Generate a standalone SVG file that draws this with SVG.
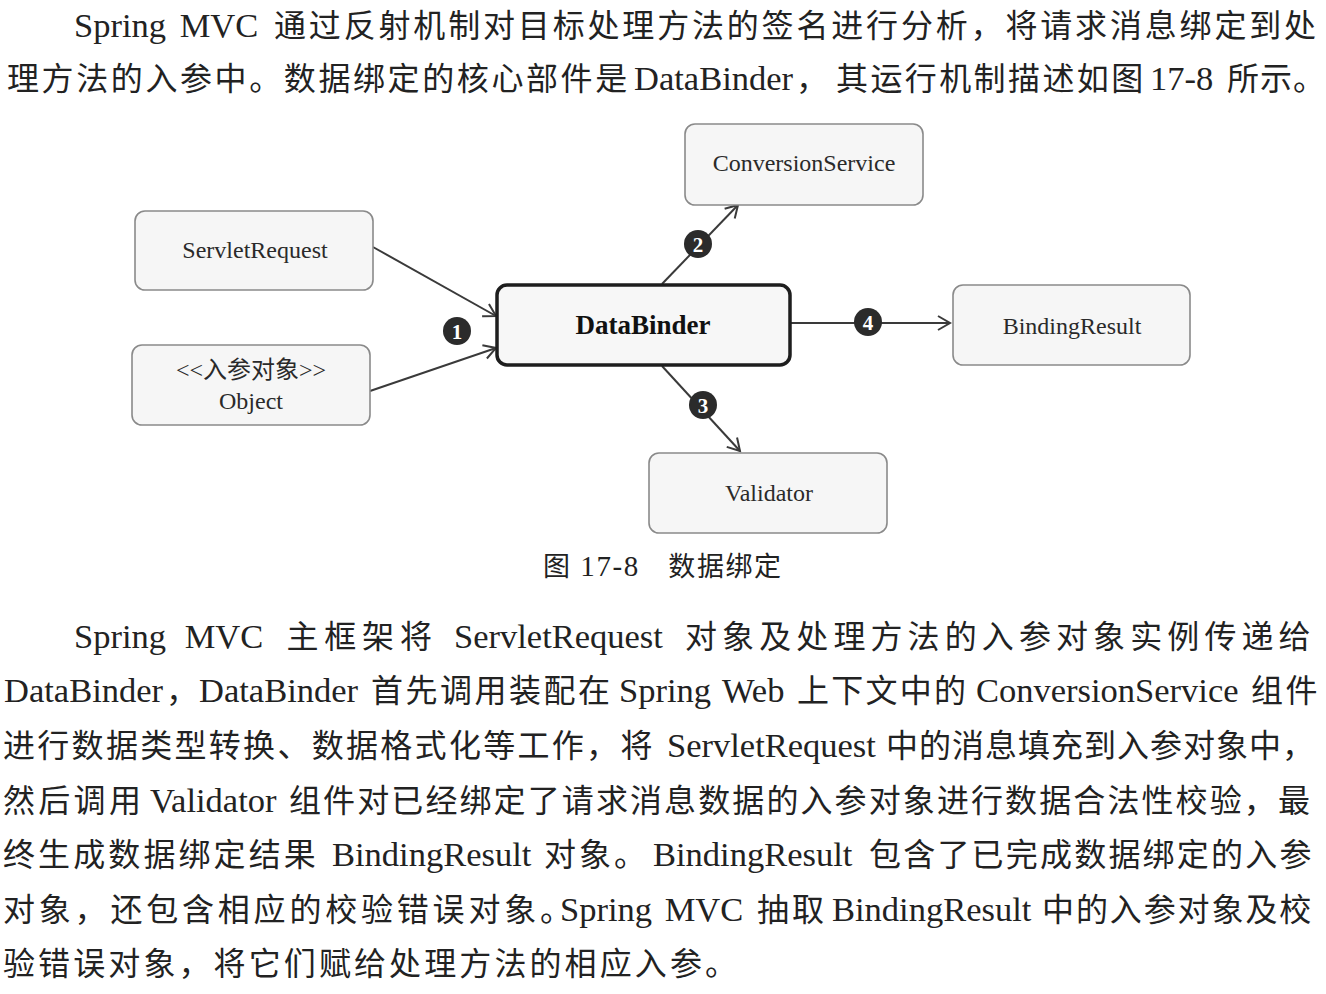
<svg xmlns="http://www.w3.org/2000/svg" width="1326" height="994" viewBox="0 0 1326 994">
<style>
.body{font-family:"Liberation Serif","Noto Sans CJK SC",serif;font-size:32px;fill:#222}
.body tspan.en{font-size:34.5px;letter-spacing:0}
.cap{font-family:"Liberation Serif","Noto Sans CJK SC",serif;font-size:27px;fill:#222}
.cap tspan.en{font-size:29px}
.box{fill:#f6f6f6;stroke:#8a8a8a;stroke-width:1.6}
.main{fill:#f7f7f7;stroke:#1e1e1e;stroke-width:3.5}
.lbl{font-family:"Liberation Serif","Noto Sans CJK SC",serif;font-size:24px;fill:#2a2a2a;text-anchor:middle}
.bold{font-weight:bold;font-size:27px;fill:#111}
.conn{stroke:#3a3a3a;stroke-width:2;fill:none}
.badge circle{fill:#2b2b2b}
.badge text{font-family:"Liberation Serif",serif;font-weight:bold;font-size:21px;fill:#fff;text-anchor:middle}
</style>
<defs>
<marker id="arr" markerUnits="userSpaceOnUse" markerWidth="18" markerHeight="18" refX="14" refY="9" orient="auto">
<path d="M2,2 L14,9 L2,16" fill="none" stroke="#3a3a3a" stroke-width="2"/>
</marker>
</defs>
<rect width="1326" height="994" fill="#ffffff"/>

<g id="paragraph-top">
<text class="body" y="37"><tspan class="en" x="74" style="word-spacing:5px">Spring MVC</tspan><tspan x="274" style="letter-spacing:2.83px">通过反射机制对目标处理方法的签名进行分析，将请求消息绑定到处</tspan></text>
<text class="body" y="90"><tspan x="7" style="letter-spacing:2.6px">理方法的入参中。数据绑定的核心部件是</tspan><tspan class="en" x="634">DataBinder</tspan><tspan x="796">，</tspan><tspan x="836" style="letter-spacing:2.4px">其运行机制描述如图</tspan><tspan class="en" x="1150">17-8</tspan><tspan x="1227" style="letter-spacing:1px">所示。</tspan></text>
</g>

<g id="connectors">
<line class="conn" x1="373" y1="247" x2="496" y2="316" marker-end="url(#arr)"/>
<line class="conn" x1="370" y1="391" x2="496" y2="348" marker-end="url(#arr)"/>
<line class="conn" x1="662" y1="284" x2="738" y2="205" marker-end="url(#arr)"/>
<line class="conn" x1="790" y1="323" x2="950" y2="323" marker-end="url(#arr)"/>
<line class="conn" x1="662" y1="366" x2="740" y2="451" marker-end="url(#arr)"/>
<g class="badge" id="badge1"><circle cx="457" cy="331" r="14"/><text x="457" y="338.5">1</text></g>
<g class="badge" id="badge2"><circle cx="698" cy="244" r="14"/><text x="698" y="251.5">2</text></g>
<g class="badge" id="badge4"><circle cx="868" cy="322" r="14"/><text x="868" y="329.5">4</text></g>
<g class="badge" id="badge3"><circle cx="703" cy="405" r="14"/><text x="703" y="412.5">3</text></g>
</g>

<g id="node-conversionservice">
<rect class="box" x="685" y="124" width="238" height="81" rx="10"/>
<text class="lbl" x="804" y="171">ConversionService</text>
</g>
<g id="node-servletrequest">
<rect class="box" x="135" y="211" width="238" height="79" rx="10"/>
<text class="lbl" x="255" y="258">ServletRequest</text>
</g>
<g id="node-object">
<rect class="box" x="132" y="345" width="238" height="80" rx="10"/>
<text class="lbl" x="251" y="378">&lt;&lt;入参对象&gt;&gt;</text>
<text class="lbl" x="251" y="409">Object</text>
</g>
<g id="node-databinder">
<rect class="main" x="497" y="285" width="293" height="80" rx="10"/>
<text class="lbl bold" x="643" y="334">DataBinder</text>
</g>
<g id="node-bindingresult">
<rect class="box" x="953" y="285" width="237" height="80" rx="10"/>
<text class="lbl" x="1072" y="334">BindingResult</text>
</g>
<g id="node-validator">
<rect class="box" x="649" y="453" width="238" height="80" rx="10"/>
<text class="lbl" x="769" y="501">Validator</text>
</g>

<g id="caption">
<text class="cap" x="543" y="576" textLength="238" lengthAdjust="spacing">图<tspan class="en"> 17-8</tspan>　数据绑定</text>
</g>

<g id="paragraph-bottom">
<text class="body" y="648"><tspan class="en" x="74" style="word-spacing:10px">Spring MVC</tspan><tspan x="286.5" style="letter-spacing:5.8px">主框架将</tspan><tspan class="en" x="454">ServletRequest</tspan><tspan x="685" style="letter-spacing:5.1px">对象及处理方法的入参对象实例传递给</tspan></text>
<text class="body" y="702"><tspan class="en" x="4">DataBinder</tspan><tspan x="166">，</tspan><tspan class="en" x="199">DataBinder</tspan><tspan x="371" style="letter-spacing:2.5px">首先调用装配在</tspan><tspan class="en" x="619" style="word-spacing:3px">Spring Web</tspan><tspan x="797" style="letter-spacing:2.25px">上下文中的</tspan><tspan class="en" x="976">ConversionService</tspan><tspan x="1251" style="letter-spacing:2.5px">组件</tspan></text>
<text class="body" y="757"><tspan x="3" style="letter-spacing:2.3px">进行数据类型转换、数据格式化等工作，将</tspan><tspan class="en" x="667">ServletRequest</tspan><tspan x="886" style="letter-spacing:1px">中的消息填充到入参对象中，</tspan></text>
<text class="body" y="812"><tspan x="3" style="letter-spacing:3.3px">然后调用</tspan><tspan class="en" x="150">Validator</tspan><tspan x="289" style="letter-spacing:2.1px">组件对已经绑定了请求消息数据的入参对象进行数据合法性校验，最</tspan></text>
<text class="body" y="866"><tspan x="3" style="letter-spacing:3.1px">终生成数据绑定结果</tspan><tspan class="en" x="332">BindingResult</tspan><tspan x="544" style="letter-spacing:3px">对象。</tspan><tspan class="en" x="653">BindingResult</tspan><tspan x="869" style="letter-spacing:2.2px">包含了已完成数据绑定的入参</tspan></text>
<text class="body" y="921"><tspan x="3" style="letter-spacing:3.8px">对象，还包含相应的校验错误对象。</tspan><tspan class="en" x="560" style="word-spacing:4px">Spring MVC</tspan><tspan x="757" style="letter-spacing:3px">抽取</tspan><tspan class="en" x="832">BindingResult</tspan><tspan x="1042" style="letter-spacing:1.9px">中的入参对象及校</tspan></text>
<text class="body" y="975"><tspan x="3" style="letter-spacing:3.1px">验错误对象，将它们赋给处理方法的相应入参。</tspan></text>
</g>
</svg>
